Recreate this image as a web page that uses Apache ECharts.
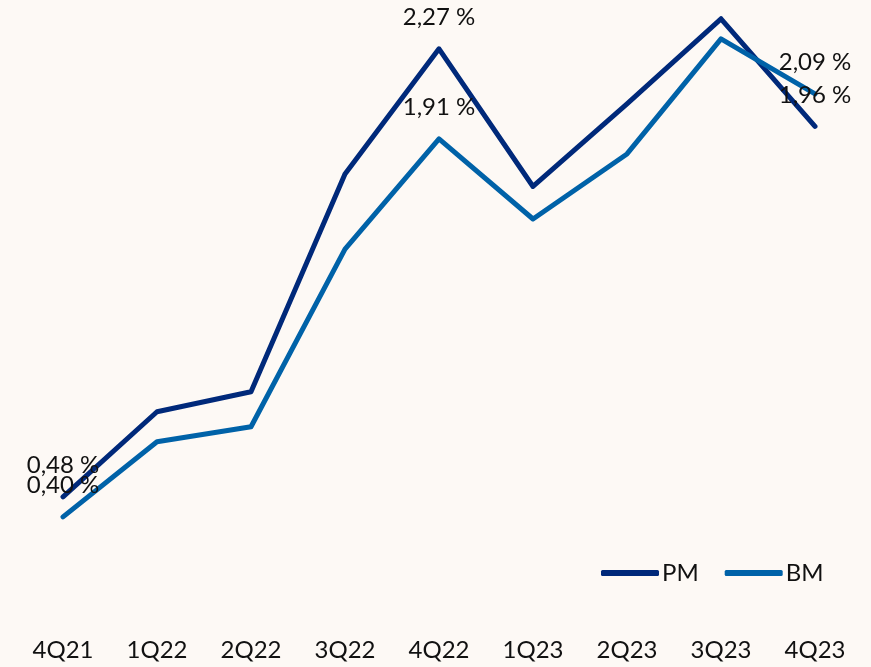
<!DOCTYPE html>
<html>
<head>
<meta charset="utf-8">
<script src="https://cdn.jsdelivr.net/npm/echarts@6/dist/echarts.min.js"></script>
<style>
html,body{margin:0;padding:0;background:#fdf9f5;}
#c{width:871px;height:667px;}
</style>
</head>
<body>
<div id="c"></div>
<script>
const categories = ['4Q21','1Q22','2Q22','3Q22','4Q22','1Q23','2Q23','3Q23','4Q23'];
const pmValues = [0.48, 0.82, 0.90, 1.77, 2.27, 1.72, 2.05, 2.39, 1.96];
const bmValues = [0.40, 0.70, 0.76, 1.47, 1.91, 1.59, 1.85, 2.31, 2.09];
const labelIndices = [0, 4, 8];

const FONT = 'Lato';
function fmt(p){
  if (labelIndices.indexOf(p.dataIndex) < 0) return '';
  return p.value.toFixed(2).replace('.', ',') + ' %';
}
function mkSeries(name, data, color){
  return {
    name: name,
    type: 'line',
    data: data,
    symbol: 'circle',
    symbolSize: 1,
    showSymbol: true,
    itemStyle: {color: color},
    lineStyle: {width: 5, color: color, cap: 'round', join: 'round'},
    label: {
      show: true, position: 'top', distance: 19,
      formatter: fmt, color: '#111', fontSize: 24, fontFamily: FONT
    },
    emphasis: {disabled: true}
  };
}
const chart = echarts.init(document.getElementById('c'));
chart.setOption({
  backgroundColor: '#fdf9f5',
  animation: false,
  grid: {left: 63, right: 56, top: 0, bottom: 50},
  legend: {
    left: 596, top: 556,
    icon: 'roundRect', itemWidth: 58, itemHeight: 6, itemGap: 26,
    textStyle: {fontSize: 24, color: '#111', fontFamily: FONT, padding: [0,0,0,-2]},
    data: ['PM', 'BM']
  },
  xAxis: {
    type: 'category', data: categories, boundaryGap: false,
    axisLine: {show: false}, axisTick: {show: false}, splitLine: {show: false},
    axisLabel: {fontSize: 24, color: '#111', fontFamily: FONT, margin: 21}
  },
  yAxis: {type: 'value', min: 0, max: 2.465, show: false, splitLine: {show: false}},
  series: [
    mkSeries('PM', pmValues, '#00297a'),
    mkSeries('BM', bmValues, '#0062a8')
  ]
});
</script>
</body>
</html>
